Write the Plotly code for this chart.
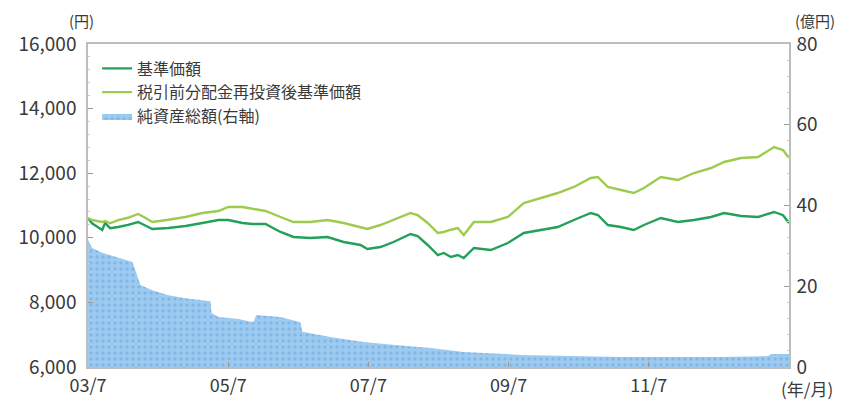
import plotly.graph_objects as go

# ---- data ----
line_dates = [
    "2003-07-01", "2003-07-22", "2003-09-13", "2003-09-28", "2003-10-24", "2003-12-05", "2004-01-26", "2004-03-18", "2004-04-24", "2004-05-31",
    "2004-08-23", "2004-11-20", "2005-02-16", "2005-05-11", "2005-07-01", "2005-09-13", "2005-11-04", "2006-01-11", "2006-03-30", "2006-06-06",
    "2006-09-02", "2006-11-30", "2007-02-22", "2007-05-21", "2007-06-26", "2007-09-02", "2007-11-09", "2008-02-06", "2008-03-14", "2008-05-05",
    "2008-06-27", "2008-07-28", "2008-09-03", "2008-10-09", "2008-11-09", "2009-01-01", "2009-03-30", "2009-06-27", "2009-09-18", "2009-12-15",
    "2010-03-14", "2010-06-06", "2010-09-02", "2010-10-09", "2010-11-30", "2011-02-06", "2011-04-14", "2011-06-06", "2011-09-02", "2011-11-30",
    "2012-02-22", "2012-05-21", "2012-07-28", "2012-10-24", "2013-01-21", "2013-04-14", "2013-05-31", "2013-07-01",
]
nav = [
    10613, 10450, 10241, 10458, 10300, 10334, 10400, 10489, 10380, 10272,
    10303, 10365, 10458, 10551, 10551, 10458, 10427, 10427, 10180, 10025,
    9994, 10025, 9870, 9777, 9653, 9715, 9870, 10118, 10050, 9777,
    9467, 9530, 9406, 9467, 9375, 9684, 9622, 9839, 10149, 10241,
    10334, 10551, 10768, 10706, 10396, 10334, 10241, 10396, 10613, 10489,
    10551, 10644, 10768, 10675, 10644, 10799, 10700, 10458,
]
nav_reinvested = [
    10613, 10550, 10489, 10520, 10450, 10550, 10620, 10737, 10620, 10489,
    10560, 10644, 10768, 10830, 10954, 10954, 10900, 10830, 10644, 10489,
    10489, 10551, 10458, 10334, 10272, 10396, 10551, 10768, 10700, 10458,
    10149, 10180, 10250, 10303, 10087, 10489, 10489, 10644, 11077, 11232,
    11387, 11573, 11851, 11882, 11573, 11480, 11387, 11542, 11882, 11789,
    12006, 12161, 12347, 12471, 12502, 12811, 12718, 12471,
]

asset_dates = [
    "2003-07-01", "2003-07-22", "2003-09-13", "2003-12-05", "2004-02-17", "2004-03-03", "2004-03-30", "2004-05-31",
    "2004-08-23", "2004-11-20", "2005-02-16", "2005-03-30", "2005-04-05", "2005-05-11", "2005-08-23", "2005-11-09",
    "2005-11-24", "2006-03-30", "2006-07-12", "2006-07-22", "2006-12-15", "2007-06-06", "2007-11-30", "2008-05-21",
    "2008-11-09", "2009-09-02", "2011-02-06", "2012-07-12", "2013-03-14", "2013-03-30", "2013-07-01",
]
net_assets = [
    31.5, 29.5, 28.3, 27.0, 26.0, 24.0, 20.3, 19.0,
    17.8, 17.0, 16.5, 16.3, 13.4, 12.4, 11.9, 11.1,
    12.9, 12.4, 11.1, 8.7, 7.4, 6.2, 5.4, 4.7,
    3.7, 3.0, 2.5, 2.5, 2.7, 3.2, 3.2,
]

x_tickvals = ["2003-07-01", "2005-07-01", "2007-07-01", "2009-07-01", "2011-07-01"]
x_ticktext = ["03/7", "05/7", "07/7", "09/7", "11/7"]
y_left_ticks = [6000, 8000, 10000, 12000, 14000, 16000]
y_right_ticks = [0, 20, 40, 60, 80]

names = ["基準価額", "税引前分配金再投資後基準価額", "純資産総額(右軸)"]

FONT = "Noto Sans CJK JP"
TXT = "#3a3a3a"
AX = "#bdbdbd"

fig = go.Figure()
fig.add_trace(go.Scatter(
    x=asset_dates, y=net_assets, name=names[2], yaxis="y2",
    mode="lines", line=dict(width=0, color="#9ccbef"), fill="tozeroy",
    fillcolor="#9ccbef",
    fillpattern=dict(shape=".", bgcolor="#9ccbef", fgcolor="#6b9fe0", size=6, solidity=0.25),
    legendrank=3,
))
fig.add_trace(go.Scatter(
    x=line_dates, y=nav, name=names[0], mode="lines",
    line=dict(color="#23a05a", width=2.4), legendrank=1,
))
fig.add_trace(go.Scatter(
    x=line_dates, y=nav_reinvested, name=names[1], mode="lines",
    line=dict(color="#9dcb4e", width=2.4), legendrank=2,
))

fig.update_layout(
    width=846, height=402,
    margin=dict(l=80, r=65, t=36, b=43, autoexpand=False),
    paper_bgcolor="white", plot_bgcolor="white",
    font=dict(family=FONT, color=TXT, size=18),
    showlegend=True,
    legend=dict(x=0.013, y=0.977, xanchor="left", yanchor="top",
                bgcolor="rgba(0,0,0,0)", font=dict(size=16, color=TXT),
                itemwidth=30, tracegroupgap=0),
    xaxis=dict(
        type="date", range=["2003-07-01", "2013-07-01"],
        tickvals=x_tickvals, ticktext=x_ticktext,
        showgrid=False, zeroline=False, automargin=False,
        showline=True, linecolor=AX, linewidth=1.5, mirror=True,
        ticks="inside", ticklen=5, tickcolor="#999",
        ticklabelstandoff=2,
        tickfont=dict(size=18, color=TXT),
    ),
    yaxis=dict(
        range=[6000, 16000], tickvals=y_left_ticks, tickformat=",d",
        showgrid=False, zeroline=False, automargin=False,
        showline=True, linecolor=AX, linewidth=1.5,
        ticks="inside", ticklen=5, tickcolor="#999",
        ticklabelstandoff=6,
        minor=dict(ticks="inside", ticklen=2, tickcolor="#ccc", dtick=400),
        tickfont=dict(size=19, color=TXT),
    ),
    yaxis2=dict(
        range=[0, 80], tickvals=y_right_ticks, overlaying="y", side="right",
        showgrid=False, zeroline=False, automargin=False,
        showline=True, linecolor=AX, linewidth=1.5,
        ticks="inside", ticklen=5, tickcolor="#999",
        ticklabelstandoff=2,
        minor=dict(ticks="inside", ticklen=2, tickcolor="#ccc", dtick=4),
        tickfont=dict(size=19, color=TXT),
    ),
    annotations=[
        dict(text="(円)", xref="paper", yref="paper", x=0, y=1, xanchor="right", yanchor="bottom",
             xshift=8, yshift=11, showarrow=False, font=dict(size=15, color=TXT)),
        dict(text="(億円)", xref="paper", yref="paper", x=1, y=1, xanchor="left", yanchor="bottom",
             xshift=4, yshift=11, showarrow=False, font=dict(size=15, color=TXT)),
        dict(text="(年/月)", xref="paper", yref="paper", x=1.026, y=0, xanchor="center", yanchor="top",
             yshift=-7, showarrow=False, font=dict(size=17, color=TXT)),
    ],
)

fig.write_html("out.html")
